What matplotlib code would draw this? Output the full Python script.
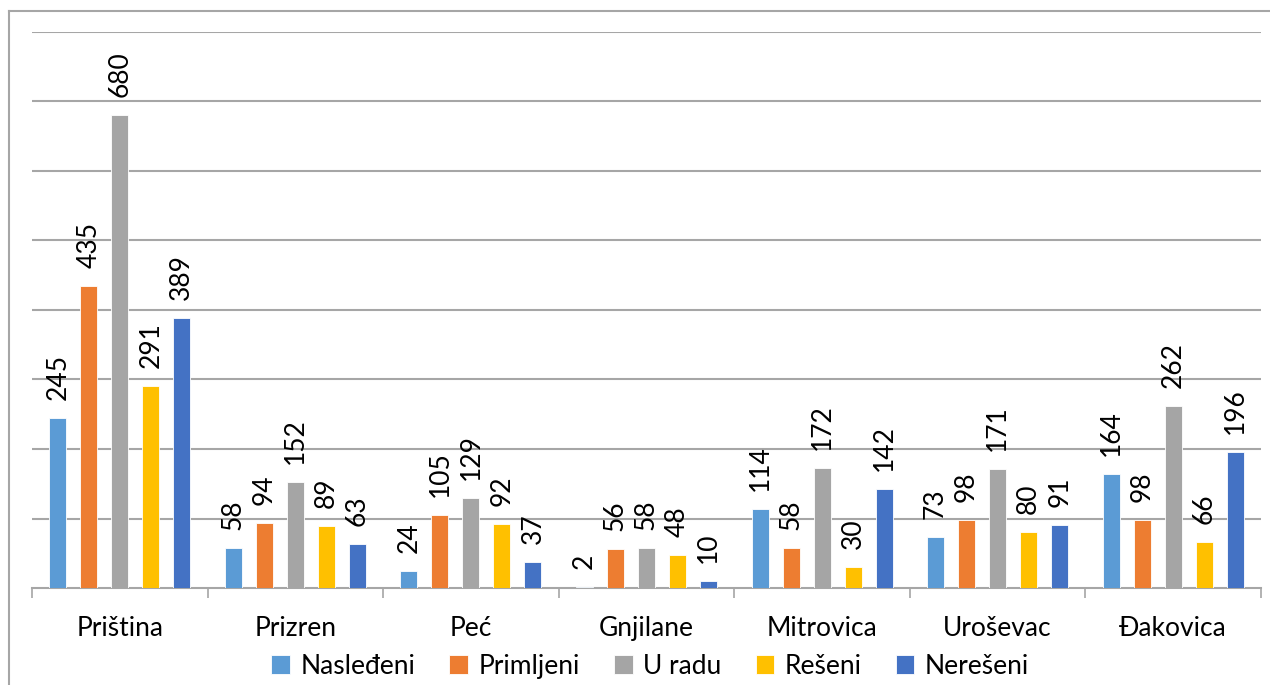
import numpy as np
import matplotlib.pyplot as plt
from matplotlib.lines import Line2D

plt.rcParams['font.family'] = ['Lato', 'DejaVu Sans']

gradovi = ['Priština', 'Prizren', 'Peć', 'Gnjilane', 'Mitrovica', 'Uroševac', 'Đakovica']
serije = ['Nasleđeni', 'Primljeni', 'U radu', 'Rešeni', 'Nerešeni']
boje = ['#5B9BD5', '#ED7D31', '#A5A5A5', '#FFC000', '#4472C4']

nasledjeni = [245, 58, 24, 2, 114, 73, 164]
primljeni = [435, 94, 105, 56, 58, 98, 98]
u_radu = [680, 152, 129, 58, 172, 171, 262]
reseni = [291, 89, 92, 48, 30, 80, 66]
neresni = [389, 63, 37, 10, 142, 91, 196]
vrednosti = [nasledjeni, primljeni, u_radu, reseni, neresni]

fig = plt.figure(figsize=(12.7, 6.85), dpi=100)
ax = fig.add_axes([0.0252, 0.1416, 0.9677, 0.8117])

x = np.arange(len(gradovi))
korak = 0.1766
sirina = 0.097
for i, (ime, boja, vals) in enumerate(zip(serije, boje, vrednosti)):
    pos = x + (i - 2) * korak
    bars = ax.bar(pos, vals, width=sirina, color=boja, edgecolor='white',
                  linewidth=0.6, label=ime, zorder=3)
    for b, v in zip(bars, vals):
        ax.annotate(str(v), (b.get_x() + b.get_width() / 2, v),
                    xytext=(0, 13), textcoords='offset points',
                    rotation=90, ha='center', va='bottom', fontsize=19)

ax.set_ylim(0, 800)
ax.set_xlim(-0.5, len(gradovi) - 0.5)
ax.set_yticks(np.arange(100, 801, 100))
ax.yaxis.grid(True, color='#A6A6A6', linewidth=1.5, zorder=0)
ax.tick_params(axis='y', left=False, labelleft=False)
for s in ['top', 'right', 'left']:
    ax.spines[s].set_visible(False)
ax.spines['bottom'].set_color('#A6A6A6')
ax.spines['bottom'].set_linewidth(1.5)

# category labels in the middle, tick marks at the group boundaries
ax.set_xticks(x)
ax.set_xticklabels(gradovi, fontsize=19)
ax.tick_params(axis='x', which='major', length=0, pad=20)
ax.set_xticks(np.arange(-0.5, len(gradovi)), minor=True)
ax.tick_params(axis='x', which='minor', length=7, width=1.2, color='#A6A6A6')

ax.legend(loc='upper center', bbox_to_anchor=(0.503, -0.099), ncol=5, frameon=False,
          fontsize=19, handlelength=0.7, handleheight=0.7, handletextpad=0.4,
          columnspacing=1.3, borderaxespad=0)

# outer chart border (top and left edges visible)
fig.add_artist(Line2D([9 / 1270, 9 / 1270], [0, 1 - 11 / 685], transform=fig.transFigure,
                      color='#A6A6A6', linewidth=1.5))
fig.add_artist(Line2D([9 / 1270, 1], [1 - 11 / 685, 1 - 11 / 685], transform=fig.transFigure,
                      color='#A6A6A6', linewidth=1.5))

fig.savefig('out.png', dpi=100)
